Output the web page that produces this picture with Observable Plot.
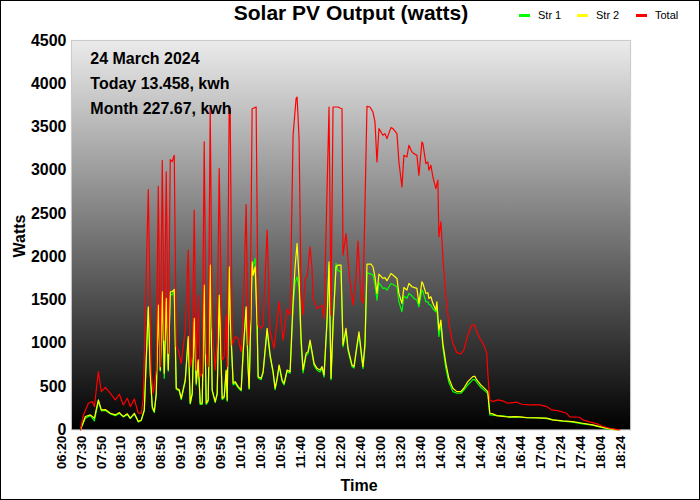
<!DOCTYPE html>
<html>
<head>
<meta charset="utf-8">
<script src="https://cdn.jsdelivr.net/npm/d3@7"></script>
<script src="https://cdn.jsdelivr.net/npm/@observablehq/plot@0.6"></script>
<style>
  html, body { margin: 0; padding: 0; background: #fff; }
  #wrap { position: relative; width: 698px; height: 498px; border: 1px solid #000; overflow: hidden;
          font-family: "Liberation Sans", Arial, sans-serif; }
  #chart { position: absolute; left: -1px; top: -1px; }
  .abs { position: absolute; white-space: nowrap; }
  #title { left: 0; width: 700px; top: 1px; text-align: center; font-size: 21px; font-weight: bold; line-height: 21px; }
  .leg { top: 9px; font-size: 11px; line-height: 11px; display: flex; align-items: center; }
  .sw { display: inline-block; width: 11px; height: 3px; margin-right: 8px; }
  #xlab { left: 0; width: 716px; text-align: center; top: 477px; font-size: 16px; font-weight: bold; line-height: 16px; }
  #ylab { left: 19px; top: 235px; font-size: 16px; font-weight: bold; line-height: 16px;
          transform: translate(-50%, -50%) rotate(-90deg); }
</style>
</head>
<body>
<div id="wrap">
  <div id="chart"></div>
  <div id="title" class="abs"></div>
  <div id="legend"></div>
  <div id="xlab" class="abs"></div>
  <div id="ylab" class="abs"></div>
</div>
<script>
const titleText = "Solar PV Output (watts)";
const xLabel = "Time";
const yLabel = "Watts";
const notes = ["24 March 2024", "Today 13.458, kwh", "Month 227.67, kwh"];
const seriesNames = ["Str 1", "Str 2", "Total"];
const seriesColors = ["#00ff00", "#ffff00", "#ff0000"];

// category labels shown every 10 samples
const timeLabels = ["06:20","07:30","07:50","08:10","08:30","08:50","09:10","09:30","09:50","10:10",
  "10:30","10:50","11:40","12:00","12:20","12:40","13:00","13:20","13:40","14:00",
  "14:20","14:40","16:24","16:44","17:04","17:24","17:44","18:04","18:24"];
const yTicks = [0,500,1000,1500,2000,2500,3000,3500,4000,4500];

// sample positions (category index) for the two strings
const strIdx = [9.5,12,14.5,16.5,18.5,20,22,24.5,27,29,
  31,33,34.5,36.5,38.5,40,41.5,43.5,44.5,45.5,
  46.5,47.5,48.5,49.5,50.5,51.5,52.5,53.5,54.5,55.5,
  56.5,57.5,59,60,62,63.5,64.5,65.5,66.5,67.5,
  68.5,69.5,70.5,71.5,72.5,73.5,74.5,75.5,77,78,
  79,80.5,81.5,82.5,83,84,84.5,86,87,88.5,
  90,91,92.5,93.5,94,95.5,96,97,98,98.5,
  100,101,103,104.5,106,107,108,109,110.5,111.5,
  113,114.5,116,117,118,119,120,121,122.5,123.5,
  124.5,125.5,126.5,128,129.5,130.5,131.5,133,134,135,
  136,137.5,138.5,140,141,142.5,143.5,145.5,146.5,148,
  149,150.5,151,152,153,155,156,157,158,159,
  161,162,163,165,166,168,169,170.5,171.5,173,
  174,175.5,176.5,178,179,180.5,181,182.5,183.5,184,
  185,186,187.5,188,189,190,191,192.5,194,196,
  198,200,201.5,203.5,206,207,208,210,211.5,213.5,
  214.5,216,218,222,224.5,227,229.5,233,238,243,
  246,251,256,261,266,269.5,273,275.5,278.5];

const str2W = [0,154,173,135,346,231,235,192,173,200,
  154,185,135,192,96,115,231,1423,654,269,
  212,423,1442,692,1596,654,1519,692,1596,1596,
  1623,481,462,365,577,1077,308,423,1288,538,
  808,308,308,1673,308,346,1904,462,327,423,
  1558,365,385,692,346,1885,1308,538,557,500,
  462,904,1423,711,481,1942,1788,1885,1211,615,
  596,673,1173,865,673,481,596,750,577,538,
  692,673,1481,1885,2154,1750,1058,692,885,904,
  1038,904,769,711,692,731,635,1269,1942,596,
  1211,1885,1904,1904,981,1173,942,750,731,981,
  1134,827,731,1000,1915,1915,1885,1769,1577,1800,
  1750,1760,1723,1808,1790,1750,1577,1462,1646,1615,
  1692,1654,1646,1635,1462,1712,1692,1577,1585,1519,
  1538,1462,1385,1480,1154,1269,1000,769,596,481,
  442,442,481,557,615,620,577,519,488,442,
  192,185,165,154,150,154,150,142,138,135,
  115,104,96,77,58,38,19,8,0];

const str1W = [0,135,165,104,330,220,225,185,165,190,
  150,175,130,185,90,110,220,1400,640,250,
  200,410,1420,680,1560,596,1500,680,1570,1560,
  1600,470,450,350,560,1050,300,410,1250,520,
  790,295,295,1640,295,330,1880,450,315,410,
  1530,350,370,680,330,1860,1290,520,540,485,
  450,880,1390,700,470,1900,1900,1981,1200,600,
  580,660,1150,850,655,465,580,735,560,520,
  675,655,1420,1700,1769,1650,1000,657,860,880,
  1010,880,745,690,670,710,610,1240,1900,580,
  1180,1923,1840,1827,960,1140,920,730,715,960,
  1100,800,710,960,1815,1800,1790,1680,1500,1700,
  1635,1640,1615,1692,1680,1654,1480,1365,1546,1520,
  1577,1550,1519,1500,1423,1615,1600,1480,1480,1450,
  1440,1400,1365,1400,1077,1231,950,711,550,442,
  423,423,460,519,580,580,550,490,462,419,
  173,170,165,160,145,150,148,140,140,130,
  115,100,90,70,55,35,15,6,0];

const totalIdx = [9.5,11,13.5,15.5,16.5,18.5,20,22,24.5,27,
  29,31,33,34.5,36.5,38.5,40,41,43.5,45,
  46,47.5,48.5,49.5,50.5,51.5,52.5,53.5,54.5,55.5,
  56.5,57.5,58.5,60,62,63.5,64.5,65.5,66.5,67.5,
  68.5,69.5,70.5,71.5,72.5,73.5,74.5,75.5,77,78,
  79,80.5,81.5,82.5,83,84,84.5,85.5,87,88.5,
  90,91,92.5,93.5,94.5,95.5,97.5,98.5,100,101,
  103,104.5,106.5,109,111,113,114.5,116,117.5,118,
  119,120,121,122,123,124.5,125.5,126,128,129.5,
  130.5,131.5,134,135,136,138.5,139.5,140.5,141,142.5,
  144,146,147.5,148.5,150,151,153,154.5,156,157,
  158,159,161,162,163,165,166,168,169,170.5,
  171.5,173,174,175.5,176.5,178,179,180.5,181,182.5,
  183.5,184,185,186,187.5,188.5,189,190,191,192.5,
  194,196,198,200,201.5,203.5,205.5,207,208,209.5,
  211.5,213,213.5,214.5,216,218.5,221,223.5,226,228,
  230.5,234.5,239.5,243,245.5,248.5,253,254.5,259.5,261,
  264.5,268,271,274.5,278.5,279.5];

const totalW = [0,173,308,327,269,673,442,492,423,346,
  412,288,365,269,357,192,192,365,2777,654,
  423,692,2815,731,3115,1038,2981,885,3123,3100,
  3173,961,923,769,1154,2077,731,846,2538,692,
  1558,615,654,3327,885,731,3720,1192,692,1038,
  3019,808,846,1327,731,3731,3700,981,1077,1058,
  904,1288,2604,981,1288,3711,3731,1211,1173,1211,
  2308,1134,942,1481,1038,1396,1327,3404,3827,3846,
  3366,1596,1327,1750,1760,2115,1865,1519,1404,1423,
  1442,1288,3731,1327,3731,3731,3720,3711,2019,2269,
  1827,1442,1760,2180,1519,1462,3738,3731,3673,3558,
  3096,3481,3404,3423,3366,3493,3481,3423,3096,2808,
  3173,3154,3289,3212,3192,3173,2942,3327,3308,3077,
  3096,3000,3058,2923,2788,2885,2231,2404,2000,1538,
  1231,1000,892,877,923,1096,1211,1211,1134,1058,
  981,885,654,346,327,346,335,308,315,320,
  296,288,288,269,231,223,192,150,146,115,
  92,72,42,19,2,0];

const toRows = (idx, vals) => idx.map((u, i) => ({u, w: vals[i]}));
const str1Data = toRows(strIdx, str1W);
const str2Data = toRows(strIdx, str2W);
const totalData = toRows(totalIdx, totalW);
const tickPos = timeLabels.map((_, i) => i * 10);

const chart = Plot.plot({
  width: 700,
  height: 500,
  marginTop: 40,
  marginBottom: 70,
  marginLeft: 71,
  marginRight: 69,
  style: {fontFamily: '"Liberation Sans", Arial, sans-serif', background: "transparent", overflow: "visible"},
  x: {type: "linear", domain: [5, 285]},
  y: {domain: [0, 4500]},
  marks: [
    Plot.frame({fill: "url(#plotbg)", stroke: "#c8c8c8"}),
    Plot.axisX({ticks: tickPos, tickFormat: d => timeLabels[Math.round(d / 10)], tickRotate: -90,
      tickSize: 0, tickPadding: 6, fontSize: 13, fontWeight: "bold", fill: "#000", label: null}),
    Plot.axisY({ticks: yTicks, tickFormat: d => String(d), tickSize: 0, tickPadding: 5, fontSize: 16,
      fontWeight: "bold", fill: "#000", label: null}),
    Plot.line(str1Data, {x: "u", y: "w", stroke: seriesColors[0], strokeWidth: 1.2}),
    Plot.line(str2Data, {x: "u", y: "w", stroke: seriesColors[1], strokeWidth: 1.2}),
    Plot.line(totalData, {x: "u", y: "w", stroke: seriesColors[2], strokeWidth: 1.2}),
    Plot.text([notes.join("\n")], {frameAnchor: "top-left", textAnchor: "start", dx: 19, dy: 6,
      lineHeight: 1.5625, fontSize: 16, fontWeight: "bold", fill: "#000"})
  ]
});

const ns = "http://www.w3.org/2000/svg";
const defs = document.createElementNS(ns, "defs");
defs.innerHTML = '<linearGradient id="plotbg" x1="0" y1="0" x2="0" y2="1">' +
  '<stop offset="0" stop-color="#ebebeb"/><stop offset="1" stop-color="#000000"/></linearGradient>';
chart.insertBefore(defs, chart.firstChild);
document.getElementById("chart").appendChild(chart);

document.getElementById("title").textContent = titleText;
document.getElementById("xlab").textContent = xLabel;
document.getElementById("ylab").textContent = yLabel;

const legendX = [518, 576, 635];
const legend = document.getElementById("legend");
seriesNames.forEach((name, i) => {
  const item = document.createElement("div");
  item.className = "abs leg";
  item.style.left = legendX[i] + "px";
  const sw = document.createElement("span");
  sw.className = "sw";
  sw.style.background = seriesColors[i];
  item.appendChild(sw);
  item.appendChild(document.createTextNode(name));
  legend.appendChild(item);
});
</script>
</body>
</html>
